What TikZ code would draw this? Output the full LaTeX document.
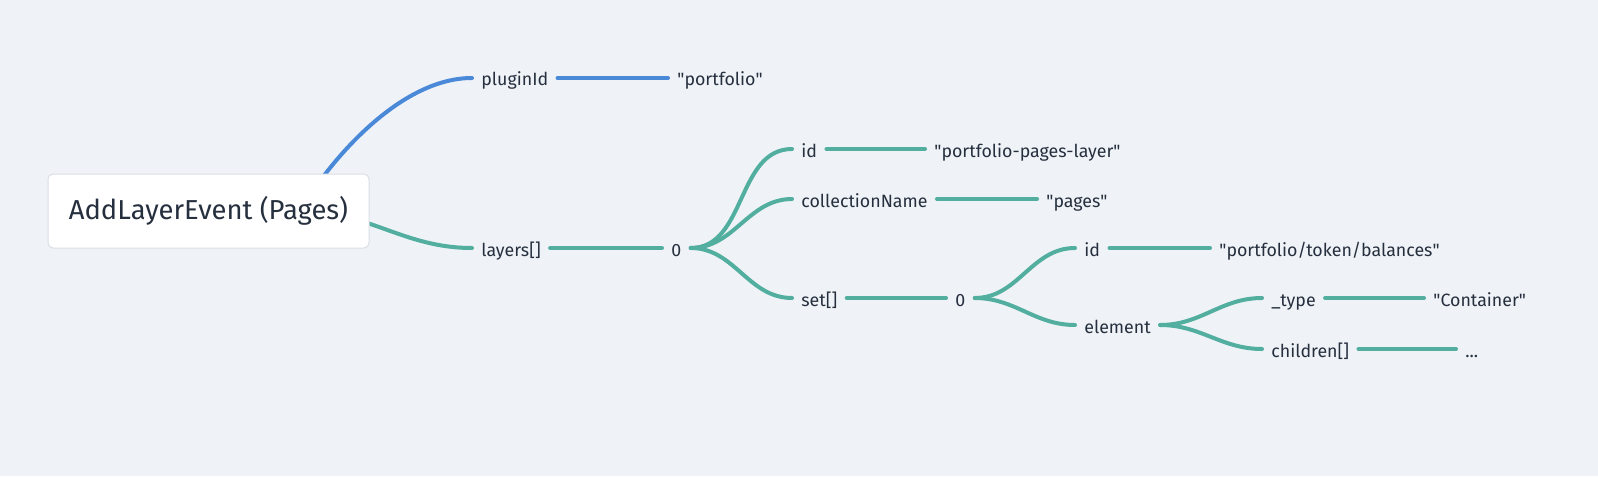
\documentclass[tikz,border=0pt]{standalone}
\usepackage{fontspec}
\setmainfont{Fira Sans}
\usepackage{tikz}
\definecolor{bg}{RGB}{239, 243, 247}
\definecolor{ink}{RGB}{38, 47, 62}
\definecolor{keyblue}{RGB}{74, 136, 216}
\definecolor{keyteal}{RGB}{82, 174, 159}
\definecolor{boxline}{RGB}{218, 222, 228}
\newcommand{\qt}[1]{\textquotedbl#1\textquotedbl}

\begin{document}
\begin{tikzpicture}[x=0.5pt, y=-0.5pt,
    label/.style={anchor=west, inner xsep=4.5pt, inner ysep=0pt, text=ink,
      font=\fontsize{8.9}{11}\selectfont, text height=0.8em, text depth=0pt},
    wire/.style={line width=2pt, line cap=round},
    branch/.style={out=0, in=180}]

  \fill[bg] (0, 0) rectangle (1598, 476);
  \useasboundingbox (0, 0) rectangle (1598, 476);

  % first level
  \coordinate (hub) at (300, 211);
  \node[label] (plugin) at (472, 78) {pluginId};
  \node[label] (pluginval) at (668, 78) {\qt{portfolio}};
  \node[label] (layers) at (472, 248) {layers[]};
  \node[label] (layerzero) at (662, 248) {0};

  % layer 0
  \node[label] (layerid) at (792, 149) {id};
  \node[label] (layeridval) at (925, 149) {\qt{portfolio-pages-layer}};
  \node[label] (collection) at (792, 199) {collectionName};
  \node[label] (collectionval) at (1037, 199) {\qt{pages}};
  \node[label] (set) at (792, 298) {set[]};
  \node[label] (setzero) at (946, 298) {0};

  % set 0
  \node[label] (setid) at (1075, 248) {id};
  \node[label] (setidval) at (1210, 248) {\qt{portfolio/token/balances}};
  \node[label] (element) at (1075, 325) {element};
  \node[label] (type) at (1262, 298) {\_type};
  \node[label] (typeval) at (1424, 298) {\qt{Container}};
  \node[label] (children) at (1262, 349) {children[]};
  \node[label] (childrenval) at (1456, 349) {...};

  \draw[wire, keyblue] (hub) .. controls (330, 160) and (400, 78) .. (plugin.west);
  \draw[wire, keyblue] (plugin.east) -- (pluginval.west);

  \draw[wire, keyteal] (hub) to[branch] (layers.west);
  \draw[wire, keyteal] (layers.east) -- (layerzero.west);
  \draw[wire, keyteal] (layerzero.east) to[branch] (layerid.west);
  \draw[wire, keyteal] (layerzero.east) to[branch] (collection.west);
  \draw[wire, keyteal] (layerzero.east) to[branch] (set.west);
  \draw[wire, keyteal] (layerid.east) -- (layeridval.west);
  \draw[wire, keyteal] (collection.east) -- (collectionval.west);
  \draw[wire, keyteal] (set.east) -- (setzero.west);
  \draw[wire, keyteal] (setzero.east) to[branch] (setid.west);
  \draw[wire, keyteal] (setzero.east) to[branch] (element.west);
  \draw[wire, keyteal] (setid.east) -- (setidval.west);
  \draw[wire, keyteal] (element.east) to[branch] (type.west);
  \draw[wire, keyteal] (element.east) to[branch] (children.west);
  \draw[wire, keyteal] (type.east) -- (typeval.west);
  \draw[wire, keyteal] (children.east) -- (childrenval.west);

  % root box sits over the hub
  \node[draw=boxline, fill=white, rounded corners=2.5pt, line width=0.5pt,
    minimum width=160.5pt, minimum height=37pt, text=ink,
    font=\fontsize{13.7}{17}\selectfont] (root) at (208.5, 211) {AddLayerEvent (Pages)};

\end{tikzpicture}
\end{document}
